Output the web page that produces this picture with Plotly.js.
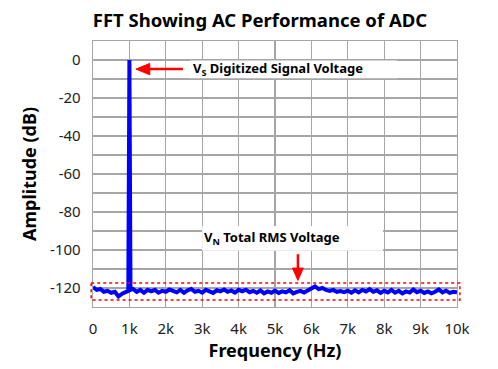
<!DOCTYPE html>
<html>
<head>
<meta charset="utf-8">
<script src="https://cdn.plot.ly/plotly-3.0.1.min.js"></script>
<style>html,body{margin:0;padding:0;background:#fff;}#chart{width:498px;height:369px;}</style>
</head>
<body>
<div id="chart"></div>
<script>
// Frequency (Hz) and amplitude (dB) of the FFT trace
var freqHz = [0,100,200,300,400,500,600,700,800,900,970,1000,1030,1100,1200,1300,1400,1500,1600,1700,1800,1900,
  2000,2100,2200,2300,2400,2500,2600,2700,2800,2900,3000,3100,3200,3300,3400,3500,3600,3700,3800,3900,
  4000,4100,4200,4300,4400,4500,4600,4700,4800,4900,5000,5100,5200,5300,5400,5500,5600,5700,5800,5900,
  6000,6100,6200,6300,6400,6500,6600,6700,6800,6900,7000,7100,7200,7300,7400,7500,7600,7700,7800,7900,
  8000,8100,8200,8300,8400,8500,8600,8700,8800,8900,9000,9100,9200,9300,9400,9500,9600,9700,9800,9900,10000];
var amplitudeDb = [-119.5,-121,-120.5,-122,-121.5,-122.5,-122,-124.5,-123,-122,-121.5,0,-121,-120.5,-122,-121,-122.5,-121,-121.8,-121,-122.5,-121.5,
  -122,-120.8,-121.5,-122.3,-121,-122.5,-121.2,-120.5,-122,-121.5,-122.5,-121,-121.8,-122.6,-121.2,-121.8,-120.8,-122,-121.3,-122.4,
  -121,-121.8,-120.9,-122.2,-121.5,-122.5,-121.3,-122.8,-121.8,-122.5,-121.4,-122.6,-121.8,-122.3,-121.2,-122.8,-122,-121.5,-122.4,-121.2,
  -120.5,-119.2,-120.6,-120,-121,-121.5,-121,-122,-121.6,-122.2,-121.4,-122.5,-121.2,-122.3,-121,-121.8,-120.6,-122,-121.2,-122.6,
  -121.5,-122.3,-121,-122.5,-121.5,-122.8,-121.8,-122.4,-120.8,-122.2,-121.4,-122.6,-121.8,-122.8,-122,-120.8,-122.3,-121.4,-122.6,-122,-122.3];

var xTickVals = [0,1000,2000,3000,4000,5000,6000,7000,8000,9000,10000];
var xTickText = ["0","1k","2k","3k","4k","5k","6k","7k","8k","9k","10k"];
var yTickVals = [0,-20,-40,-60,-80,-100,-120];
var yTickText = ["0","-20","-40","-60","-80","-100","-120"];

var titleText = "FFT Showing AC Performance of ADC";
var xTitle = "Frequency (Hz)";
var yTitle = "Amplitude (dB)";
var signalLabel = "V<sub>S</sub> Digitized Signal Voltage";
var noiseLabel = "V<sub>N</sub> Total RMS Voltage";

var FONT = "Noto Sans, Open Sans, sans-serif";
var GRID = "#a6a6a6";

var trace = {
  x: freqHz, y: amplitudeDb, type: "scatter", mode: "lines",
  line: {color: "#0000ff", width: 4}, hoverinfo: "skip"
};

var layout = {
  width: 498, height: 369,
  margin: {l: 93, r: 41, t: 41, b: 62},
  paper_bgcolor: "#ffffff", plot_bgcolor: "#ffffff",
  showlegend: false,
  font: {family: FONT, color: "#000"},
  title: {text: "<b>" + titleText + "</b>", font: {family: FONT, size: 18.5, color: "#000"},
          x: 0.522, xanchor: "center", y: 0.945, yanchor: "middle"},
  xaxis: {
    range: [0, 10000], tickvals: xTickVals, ticktext: xTickText,
    showgrid: true, gridcolor: GRID, gridwidth: 1.3,
    showline: true, linecolor: GRID, linewidth: 1.3, mirror: true,
    zeroline: false, ticks: "", ticklabelstandoff: 8,
    tickfont: {family: FONT, size: 15, color: "#222"},
    title: {text: "<b>" + xTitle + "</b>", font: {family: FONT, size: 18, color: "#000"}, standoff: 4}
  },
  yaxis: {
    range: [-130, 10], tickvals: yTickVals, ticktext: yTickText,
    showgrid: true, gridcolor: GRID, gridwidth: 1.3,
    minor: {dtick: 10, tick0: 0, showgrid: true, gridcolor: GRID, gridwidth: 1.3, ticks: ""},
    showline: true, linecolor: GRID, linewidth: 1.3, mirror: true,
    zeroline: false, ticks: "", ticklabelstandoff: 8,
    tickfont: {family: FONT, size: 15, color: "#222"},
    title: {text: "<b>" + yTitle + "</b>", font: {family: FONT, size: 18, color: "#000"}, standoff: 8}
  },
  shapes: [
    {type: "rect", xref: "x", yref: "y", x0: 2660, x1: 8350, y0: -0.3, y1: -9.6,
     fillcolor: "#ffffff", line: {width: 0}, layer: "between"},
    {type: "rect", xref: "x", yref: "y", x0: 3000, x1: 7970, y0: -87.4, y1: -100.4,
     fillcolor: "#ffffff", line: {width: 0}, layer: "between"},
    {type: "rect", xref: "paper", yref: "y", x0: -0.005, x1: 1.008, y0: -117.4, y1: -126.3,
     line: {color: "#ff0000", width: 1.5, dash: "dot"}, fillcolor: "rgba(0,0,0,0)", layer: "above"},
    // arrow to the signal peak
    {type: "line", xref: "x", yref: "y", x0: 2470, x1: 1450, y0: -4.8, y1: -4.8,
     line: {color: "#ff0000", width: 2.5}, layer: "above"},
    {type: "path", xref: "x", yref: "y", path: "M 1180 -4.8 L 1560 -1.8 L 1560 -7.8 Z",
     fillcolor: "#ff0000", line: {color: "#ff0000", width: 1}, layer: "above"},
    // arrow to the noise floor
    {type: "line", xref: "x", yref: "y", x0: 5630, x1: 5630, y0: -102.2, y1: -110,
     line: {color: "#ff0000", width: 2.5}, layer: "above"},
    {type: "path", xref: "x", yref: "y", path: "M 5630 -116 L 5480 -109.5 L 5780 -109.5 Z",
     fillcolor: "#ff0000", line: {color: "#ff0000", width: 1}, layer: "above"}
  ],
  annotations: [
    {xref: "x", yref: "y", x: 2700, y: -4.8, xanchor: "left", yanchor: "middle",
     text: "<b>" + signalLabel + "</b>", showarrow: false,
     font: {family: FONT, size: 13, color: "#000"}},
    {xref: "x", yref: "y", x: 3000, y: -93.5, xanchor: "left", yanchor: "middle",
     text: "<b>" + noiseLabel + "</b>", showarrow: false,
     font: {family: FONT, size: 13, color: "#000"}}
  ]
};

Plotly.newPlot("chart", [trace], layout, {staticPlot: true, displayModeBar: false});
</script>
</body>
</html>
